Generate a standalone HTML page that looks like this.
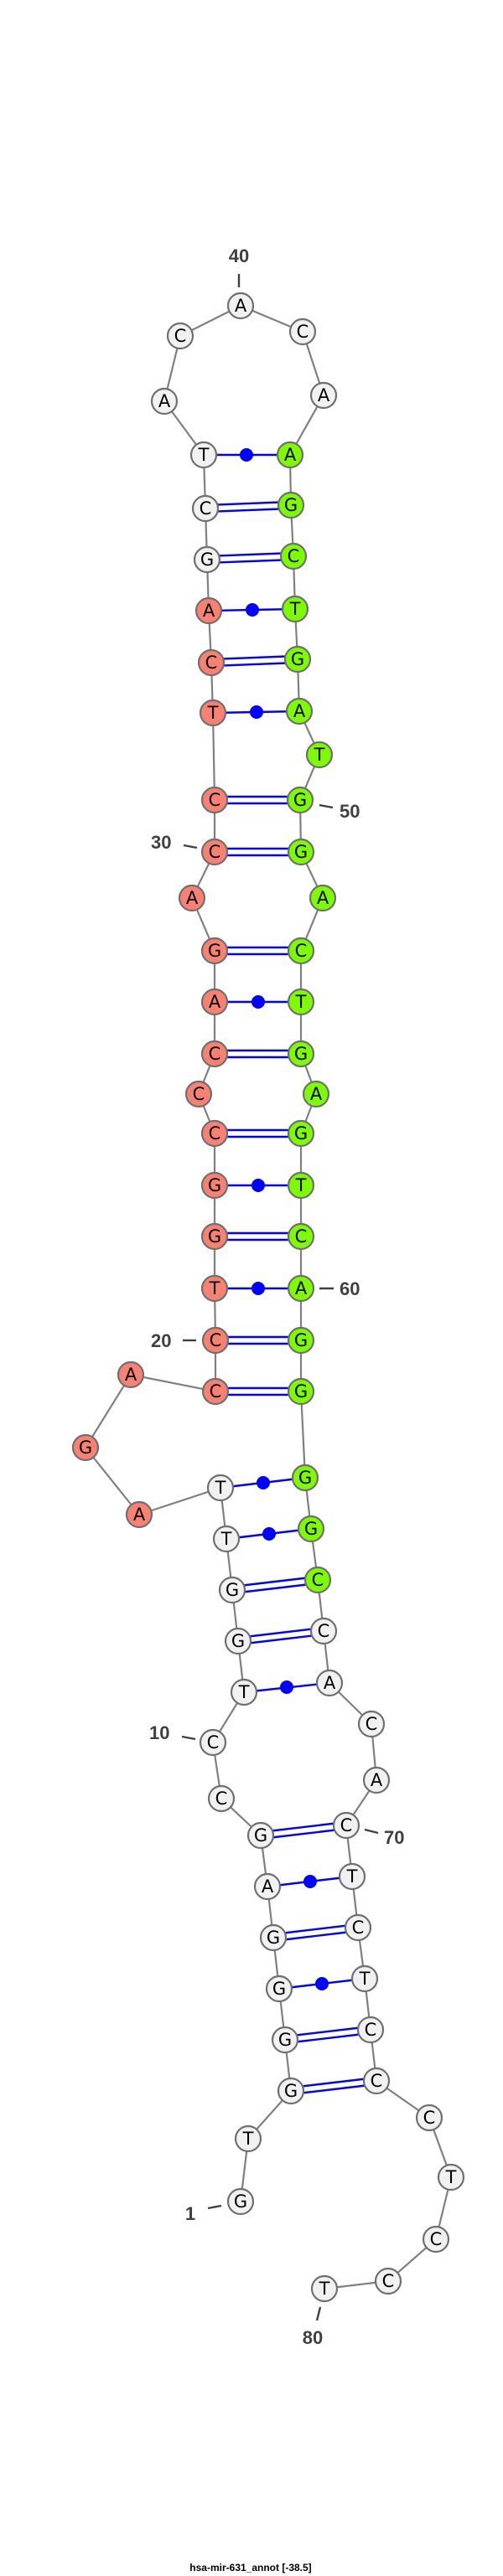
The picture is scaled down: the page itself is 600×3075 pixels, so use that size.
<!DOCTYPE html>
<html><head><meta charset="utf-8"><style>
html,body{margin:0;padding:0;background:#fff;}
svg{display:block;}
.n circle{stroke:#707070;stroke-width:2.2;}
.w{fill:#f1f1f1}.r{fill:#f88172}.g{fill:#7dfb00}
.n text{font-family:"DejaVu Sans","Liberation Sans",sans-serif;font-size:21px;text-anchor:middle;dominant-baseline:central;fill:#000;}
.lb{font-family:"Liberation Sans",sans-serif;font-weight:bold;font-size:22px;fill:#404040;}
</style></head><body>
<svg width="600" height="3075" viewBox="0 0 600 3075" xmlns="http://www.w3.org/2000/svg">
<polyline fill="none" stroke="#808080" stroke-width="2.2" points="287,2628 296,2553 347,2496 340,2435 333,2374 326,2313 319,2252 311,2191 264,2147 254,2080 291,2020 284,1959 277,1898 270,1837 263,1776 166,1808 102,1728 156,1641 257,1661 257,1600 256,1538 256,1476 256,1415 256,1353 237,1306 256,1258 256,1196 256,1135 229,1072 256,1017 256,955 254,851 252,791 249,729 247,668 245,607 243,543 196,479 215,401 287,365 361,396 386,472 346,543 347,603 350,664 352,727 355,787 357,849 381,901 358,955 359,1017 385,1072 359,1135 359,1196 359,1258 377,1306 359,1353 359,1415 359,1476 359,1538 359,1600 359,1661 364,1764 371,1825 379,1886 386,1947 393,2009 443,2058 449,2125 413,2179 420,2240 427,2301 435,2362 442,2423 449,2484 512,2528 538,2599 520,2673 463,2723 387,2732"/>
<g stroke="#0000ff" stroke-width="2.4" fill="none">
<!-- double pairs -->
<path d="M347,2492 L449,2480 M347,2500 L449,2488"/>
<path d="M340,2431 L442,2419 M340,2439 L442,2427"/>
<path d="M326,2309 L427,2297 M326,2317 L427,2305"/>
<path d="M311,2187 L413,2175 M311,2195 L413,2183"/>
<path d="M284,1955 L386,1943 M284,1963 L386,1951"/>
<path d="M277,1894 L379,1882 M277,1902 L379,1890"/>
<path d="M257,1657 L359,1657 M257,1665 L359,1665"/>
<path d="M257,1596 L359,1596 M257,1604 L359,1604"/>
<path d="M256,1472 L359,1472 M256,1480 L359,1480"/>
<path d="M256,1349 L359,1349 M256,1357 L359,1357"/>
<path d="M256,1254 L359,1254 M256,1262 L359,1262"/>
<path d="M256,1131 L359,1131 M256,1139 L359,1139"/>
<path d="M256,1013 L359,1013 M256,1021 L359,1021"/>
<path d="M256,951 L358,951 M256,959 L358,959"/>
<path d="M252,787 L355,783 M252,795 L355,791"/>
<path d="M247,664 L350,660 M247,672 L350,668"/>
<path d="M245,603 L347,599 M245,611 L347,607"/>
<!-- dot pairs -->
<path d="M333,2374 L435,2362 M319,2252 L420,2240 M291,2020 L393,2009 M270,1837 L371,1825 M263,1776 L364,1764 M256,1538 L359,1538 M256,1415 L359,1415 M256,1196 L359,1196 M254,851 L357,849 M249,729 L352,727 M243,543 L346,543"/>
</g>
<g fill="#0000ff">
<circle cx="384" cy="2368" r="8"/><circle cx="370" cy="2246" r="8"/><circle cx="342" cy="2014" r="8"/><circle cx="321" cy="1831" r="8"/><circle cx="314" cy="1770" r="8"/><circle cx="308" cy="1538" r="8"/><circle cx="308" cy="1415" r="8"/><circle cx="308" cy="1196" r="8"/><circle cx="306" cy="850" r="8"/><circle cx="301" cy="728" r="8"/><circle cx="294" cy="543" r="8"/>
</g>
<g stroke="#404040" stroke-width="2.4">
<line x1="285" y1="327" x2="285" y2="343"/>
<line x1="381" y1="961" x2="397" y2="964"/>
<line x1="219" y1="1009" x2="235" y2="1012"/>
<line x1="381" y1="1538" x2="398" y2="1538"/>
<line x1="218" y1="1600" x2="234" y2="1600"/>
<line x1="217" y1="2073" x2="233" y2="2076"/>
<line x1="435" y1="2184" x2="451" y2="2188"/>
<line x1="248" y1="2636" x2="264" y2="2633"/>
<line x1="382" y1="2754" x2="378" y2="2770"/>
</g>
<g class="lb">
<text x="285" y="313" text-anchor="middle">40</text>
<text x="405" y="976">50</text>
<text x="180" y="1013">30</text>
<text x="405" y="1546">60</text>
<text x="180" y="1608">20</text>
<text x="178" y="2076">10</text>
<text x="458" y="2201">70</text>
<text x="227" y="2650" text-anchor="middle">1</text>
<text x="373" y="2798" text-anchor="middle">80</text>
</g>
<g class="n">
<circle class="w" cx="287" cy="2628" r="15"/><text x="287" y="2628">G</text>
<circle class="w" cx="296" cy="2553" r="15"/><text x="296" y="2553">T</text>
<circle class="w" cx="347" cy="2496" r="15"/><text x="347" y="2496">G</text>
<circle class="w" cx="340" cy="2435" r="15"/><text x="340" y="2435">G</text>
<circle class="w" cx="333" cy="2374" r="15"/><text x="333" y="2374">G</text>
<circle class="w" cx="326" cy="2313" r="15"/><text x="326" y="2313">G</text>
<circle class="w" cx="319" cy="2252" r="15"/><text x="319" y="2252">A</text>
<circle class="w" cx="311" cy="2191" r="15"/><text x="311" y="2191">G</text>
<circle class="w" cx="264" cy="2147" r="15"/><text x="264" y="2147">C</text>
<circle class="w" cx="254" cy="2080" r="15"/><text x="254" y="2080">C</text>
<circle class="w" cx="291" cy="2020" r="15"/><text x="291" y="2020">T</text>
<circle class="w" cx="284" cy="1959" r="15"/><text x="284" y="1959">G</text>
<circle class="w" cx="277" cy="1898" r="15"/><text x="277" y="1898">G</text>
<circle class="w" cx="270" cy="1837" r="15"/><text x="270" y="1837">T</text>
<circle class="w" cx="263" cy="1776" r="15"/><text x="263" y="1776">T</text>
<circle class="r" cx="166" cy="1808" r="15"/><text x="166" y="1808">A</text>
<circle class="r" cx="102" cy="1728" r="15"/><text x="102" y="1728">G</text>
<circle class="r" cx="156" cy="1641" r="15"/><text x="156" y="1641">A</text>
<circle class="r" cx="257" cy="1661" r="15"/><text x="257" y="1661">C</text>
<circle class="r" cx="257" cy="1600" r="15"/><text x="257" y="1600">C</text>
<circle class="r" cx="256" cy="1538" r="15"/><text x="256" y="1538">T</text>
<circle class="r" cx="256" cy="1476" r="15"/><text x="256" y="1476">G</text>
<circle class="r" cx="256" cy="1415" r="15"/><text x="256" y="1415">G</text>
<circle class="r" cx="256" cy="1353" r="15"/><text x="256" y="1353">C</text>
<circle class="r" cx="237" cy="1306" r="15"/><text x="237" y="1306">C</text>
<circle class="r" cx="256" cy="1258" r="15"/><text x="256" y="1258">C</text>
<circle class="r" cx="256" cy="1196" r="15"/><text x="256" y="1196">A</text>
<circle class="r" cx="256" cy="1135" r="15"/><text x="256" y="1135">G</text>
<circle class="r" cx="229" cy="1072" r="15"/><text x="229" y="1072">A</text>
<circle class="r" cx="256" cy="1017" r="15"/><text x="256" y="1017">C</text>
<circle class="r" cx="256" cy="955" r="15"/><text x="256" y="955">C</text>
<circle class="r" cx="254" cy="851" r="15"/><text x="254" y="851">T</text>
<circle class="r" cx="252" cy="791" r="15"/><text x="252" y="791">C</text>
<circle class="r" cx="249" cy="729" r="15"/><text x="249" y="729">A</text>
<circle class="w" cx="247" cy="668" r="15"/><text x="247" y="668">G</text>
<circle class="w" cx="245" cy="607" r="15"/><text x="245" y="607">C</text>
<circle class="w" cx="243" cy="543" r="15"/><text x="243" y="543">T</text>
<circle class="w" cx="196" cy="479" r="15"/><text x="196" y="479">A</text>
<circle class="w" cx="215" cy="401" r="15"/><text x="215" y="401">C</text>
<circle class="w" cx="287" cy="365" r="15"/><text x="287" y="365">A</text>
<circle class="w" cx="361" cy="396" r="15"/><text x="361" y="396">C</text>
<circle class="w" cx="386" cy="472" r="15"/><text x="386" y="472">A</text>
<circle class="g" cx="346" cy="543" r="15"/><text x="346" y="543">A</text>
<circle class="g" cx="347" cy="603" r="15"/><text x="347" y="603">G</text>
<circle class="g" cx="350" cy="664" r="15"/><text x="350" y="664">C</text>
<circle class="g" cx="352" cy="727" r="15"/><text x="352" y="727">T</text>
<circle class="g" cx="355" cy="787" r="15"/><text x="355" y="787">G</text>
<circle class="g" cx="357" cy="849" r="15"/><text x="357" y="849">A</text>
<circle class="g" cx="381" cy="901" r="15"/><text x="381" y="901">T</text>
<circle class="g" cx="358" cy="955" r="15"/><text x="358" y="955">G</text>
<circle class="g" cx="359" cy="1017" r="15"/><text x="359" y="1017">G</text>
<circle class="g" cx="385" cy="1072" r="15"/><text x="385" y="1072">A</text>
<circle class="g" cx="359" cy="1135" r="15"/><text x="359" y="1135">C</text>
<circle class="g" cx="359" cy="1196" r="15"/><text x="359" y="1196">T</text>
<circle class="g" cx="359" cy="1258" r="15"/><text x="359" y="1258">G</text>
<circle class="g" cx="377" cy="1306" r="15"/><text x="377" y="1306">A</text>
<circle class="g" cx="359" cy="1353" r="15"/><text x="359" y="1353">G</text>
<circle class="g" cx="359" cy="1415" r="15"/><text x="359" y="1415">T</text>
<circle class="g" cx="359" cy="1476" r="15"/><text x="359" y="1476">C</text>
<circle class="g" cx="359" cy="1538" r="15"/><text x="359" y="1538">A</text>
<circle class="g" cx="359" cy="1600" r="15"/><text x="359" y="1600">G</text>
<circle class="g" cx="359" cy="1661" r="15"/><text x="359" y="1661">G</text>
<circle class="g" cx="364" cy="1764" r="15"/><text x="364" y="1764">G</text>
<circle class="g" cx="371" cy="1825" r="15"/><text x="371" y="1825">G</text>
<circle class="g" cx="379" cy="1886" r="15"/><text x="379" y="1886">C</text>
<circle class="w" cx="386" cy="1947" r="15"/><text x="386" y="1947">C</text>
<circle class="w" cx="393" cy="2009" r="15"/><text x="393" y="2009">A</text>
<circle class="w" cx="443" cy="2058" r="15"/><text x="443" y="2058">C</text>
<circle class="w" cx="449" cy="2125" r="15"/><text x="449" y="2125">A</text>
<circle class="w" cx="413" cy="2179" r="15"/><text x="413" y="2179">C</text>
<circle class="w" cx="420" cy="2240" r="15"/><text x="420" y="2240">T</text>
<circle class="w" cx="427" cy="2301" r="15"/><text x="427" y="2301">C</text>
<circle class="w" cx="435" cy="2362" r="15"/><text x="435" y="2362">T</text>
<circle class="w" cx="442" cy="2423" r="15"/><text x="442" y="2423">C</text>
<circle class="w" cx="449" cy="2484" r="15"/><text x="449" y="2484">C</text>
<circle class="w" cx="512" cy="2528" r="15"/><text x="512" y="2528">C</text>
<circle class="w" cx="538" cy="2599" r="15"/><text x="538" y="2599">T</text>
<circle class="w" cx="520" cy="2673" r="15"/><text x="520" y="2673">C</text>
<circle class="w" cx="463" cy="2723" r="15"/><text x="463" y="2723">C</text>
<circle class="w" cx="387" cy="2732" r="15"/><text x="387" y="2732">T</text>
</g>
<text x="299" y="3069" text-anchor="middle" font-family="Liberation Sans, sans-serif" font-weight="bold" font-size="12" fill="#000">hsa-mir-631_annot [-38.5]</text>
</svg>
</body></html>
